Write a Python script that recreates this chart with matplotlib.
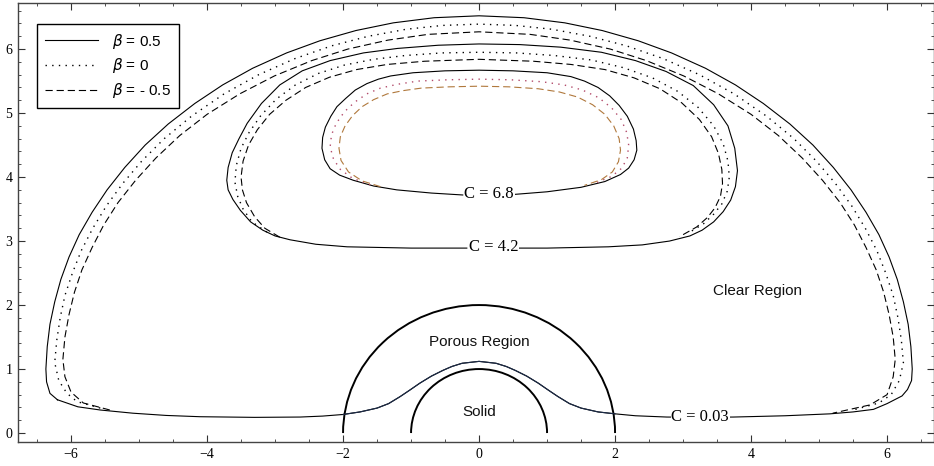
import numpy as np
import matplotlib
matplotlib.use("Agg")
import matplotlib.pyplot as plt
from matplotlib.patches import Arc
from matplotlib.ticker import MultipleLocator

# ---- data ----
# C = 0.03 streamline, beta = 0.5 (closed loop, starts at left bottom corner)
c003_solid_x = [-6.2, -5.9, -5.57, -5.09, -4.6, -4.1, -3.3, -2.63, -2.3, -2.0,
                -1.75, -1.5, -1.33, -1.16, -1.02, -0.87, -0.7, -0.53, -0.4, -0.25, 0.0,
                0.25, 0.4, 0.53, 0.7, 0.87, 1.02, 1.16, 1.33, 1.5, 1.75,
                2.0, 2.3, 2.76, 3.3, 3.74, 4.5, 5.16, 5.5, 5.8, 6.0, 6.22, 6.3, 6.36,
                6.37, 6.35, 6.31, 6.24, 6.15, 6.03, 5.88, 5.69, 5.47, 5.21, 4.91, 4.57,
                4.18, 3.77, 3.33, 2.83, 2.34, 1.81, 1.26, 0.66,
                0.0, -0.66, -1.26, -1.81, -2.34, -2.83, -3.33, -3.77, -4.18,
                -4.57, -4.91, -5.21, -5.47, -5.69, -5.88, -6.03, -6.15, -6.24, -6.31,
                -6.35, -6.37, -6.36, -6.31, -6.2]
c003_solid_y = [0.52, 0.41, 0.36, 0.31, 0.275, 0.255, 0.245, 0.25, 0.265, 0.29,
                0.33, 0.39, 0.46, 0.57, 0.67, 0.78, 0.89, 0.98, 1.04, 1.09, 1.12,
                1.09, 1.04, 0.98, 0.89, 0.78, 0.67, 0.57, 0.46, 0.39, 0.33,
                0.30, 0.27, 0.25, 0.245, 0.25, 0.27, 0.30, 0.33, 0.37, 0.46, 0.58, 0.68, 0.82,
                1.0, 1.35, 1.7, 2.05, 2.4, 2.75, 3.1, 3.45, 3.8, 4.15, 4.5, 4.83,
                5.15, 5.44, 5.7, 5.94, 6.13, 6.29, 6.41, 6.49,
                6.52, 6.49, 6.41, 6.29, 6.13, 5.94, 5.7, 5.44, 5.15,
                4.83, 4.5, 4.15, 3.8, 3.45, 3.1, 2.75, 2.4, 2.05, 1.7,
                1.35, 1.0, 0.8, 0.62, 0.52]
# porous-region part of the same line (drawn in dark blue)
porous_x = [-2.0, -1.75, -1.5, -1.33, -1.16, -1.02, -0.87, -0.7, -0.53, -0.4, -0.25, 0.0,
            0.25, 0.4, 0.53, 0.7, 0.87, 1.02, 1.16, 1.33, 1.5, 1.75, 2.0]
porous_y = [0.29, 0.33, 0.39, 0.46, 0.57, 0.67, 0.78, 0.89, 0.98, 1.04, 1.09, 1.12,
            1.09, 1.04, 0.98, 0.89, 0.78, 0.67, 0.57, 0.46, 0.39, 0.33, 0.30]

c003_dot_x = [-5.57, -5.91, -6.06, -6.18, -6.24, -6.21, -6.16, -6.09, -5.98, -5.85, -5.68,
              -5.48, -5.24, -4.96, -4.63, -4.23, -3.75, -3.24, -2.71, -2.17, -1.63, -1.07,
              -0.53, 0.0, 0.53, 1.07, 1.63, 2.17, 2.71, 3.24, 3.75, 4.23, 4.63, 4.96,
              5.24, 5.48, 5.68, 5.85, 5.98, 6.09, 6.16, 6.21, 6.24, 6.18, 6.06, 5.88, 5.5]
c003_dot_y = [0.39, 0.49, 0.62, 0.82, 1.1, 1.45, 1.8, 2.15, 2.5, 2.85, 3.2,
              3.55, 3.9, 4.25, 4.6, 4.95, 5.3, 5.6, 5.85, 6.05, 6.2, 6.31,
              6.37, 6.39, 6.37, 6.31, 6.2, 6.05, 5.85, 5.6, 5.3, 4.95, 4.6, 4.25,
              3.9, 3.55, 3.2, 2.85, 2.5, 2.15, 1.8, 1.45, 1.1, 0.82, 0.6, 0.47, 0.36]

c003_dash_x = [-5.43, -5.82, -6.0, -6.09, -6.12, -6.09, -6.03, -5.95, -5.84, -5.69, -5.52,
               -5.31, -5.05, -4.75, -4.4, -4.0, -3.52, -3.01, -2.46, -1.93, -1.34, -0.75,
               0.0, 0.75, 1.34, 1.93, 2.46, 3.01, 3.52, 4.0, 4.4, 4.75, 5.05,
               5.31, 5.52, 5.69, 5.84, 5.95, 6.03, 6.09, 6.12, 6.09, 6.0, 5.75, 5.2]
c003_dash_y = [0.36, 0.47, 0.64, 0.88, 1.15, 1.5, 1.85, 2.2, 2.55, 2.9, 3.25,
               3.6, 3.95, 4.3, 4.65, 4.98, 5.3, 5.58, 5.82, 6.0, 6.14, 6.23,
               6.27, 6.23, 6.14, 6.0, 5.82, 5.58, 5.3, 4.98, 4.65, 4.3, 3.95,
               3.6, 3.25, 2.9, 2.55, 2.2, 1.85, 1.5, 1.15, 0.88, 0.6, 0.44, 0.31]

# C = 4.2
c42_solid_x = [-0.18, -1.0, -1.94, -2.4, -2.78, -3.0, -3.18, -3.36, -3.51, -3.62, -3.69, -3.71,
               -3.69, -3.63, -3.53, -3.41, -3.2, -2.93, -2.6, -2.19, -1.7, -1.2, -0.6, 0.0,
               0.6, 1.2, 1.8, 2.3, 2.75, 3.15, 3.45, 3.66, 3.76, 3.8, 3.77, 3.7, 3.59,
               3.45, 3.28, 3.1, 2.8, 2.4, 1.9, 1.0, 0.22]
c42_solid_y = [2.89, 2.89, 2.91, 2.95, 3.02, 3.08, 3.17, 3.3, 3.48, 3.65, 3.8, 3.95,
               4.15, 4.38, 4.6, 4.84, 5.15, 5.44, 5.66, 5.82, 5.94, 6.01, 6.06, 6.08,
               6.07, 6.03, 5.95, 5.82, 5.65, 5.43, 5.13, 4.8, 4.45, 4.1, 3.85, 3.64, 3.46,
               3.3, 3.17, 3.08, 3.0, 2.94, 2.91, 2.89, 2.89]
c42_dot_x = [-3.12, -3.34, -3.47, -3.55, -3.59, -3.57, -3.5, -3.38, -3.21, -2.98, -2.7,
             -2.36, -1.98, -1.55, -1.08, -0.55, 0.0, 0.55, 1.1, 1.65, 2.12, 2.55, 2.92,
             3.22, 3.45, 3.59, 3.66, 3.68, 3.65, 3.57, 3.45, 3.3, 3.1]
c42_dot_y = [3.14, 3.3, 3.5, 3.7, 3.92, 4.18, 4.45, 4.7, 4.96, 5.22, 5.44,
             5.62, 5.75, 5.84, 5.9, 5.94, 5.95, 5.94, 5.9, 5.83, 5.71, 5.55, 5.34,
             5.09, 4.8, 4.52, 4.25, 4.0, 3.78, 3.58, 3.42, 3.27, 3.14]
c42_dash_x = [-2.93, -3.15, -3.3, -3.42, -3.48, -3.5, -3.47, -3.39, -3.26, -3.08, -2.84,
              -2.55, -2.2, -1.8, -1.35, -0.8, 0.0, 0.8, 1.35, 1.85, 2.28, 2.66, 2.98,
              3.24, 3.42, 3.52, 3.57, 3.58, 3.55, 3.47, 3.36, 3.2, 2.95]
c42_dash_y = [3.06, 3.2, 3.38, 3.6, 3.8, 4.0, 4.25, 4.5, 4.74, 4.98, 5.2,
              5.4, 5.56, 5.68, 5.76, 5.81, 5.84, 5.81, 5.76, 5.68, 5.55, 5.38, 5.16,
              4.9, 4.63, 4.37, 4.12, 3.9, 3.7, 3.52, 3.37, 3.22, 3.07]

# C = 6.8
c68_solid_x = [-0.24, -0.7, -1.21, -1.55, -1.85, -2.05, -2.19, -2.27, -2.31, -2.3, -2.26,
               -2.18, -2.09, -1.96, -1.82, -1.65, -1.48, -1.3, -0.97, -0.5, 0.0, 0.5,
               1.0, 1.35, 1.55, 1.75, 1.92, 2.06, 2.18, 2.27, 2.31, 2.32, 2.28, 2.2,
               2.08, 1.85, 1.5, 1.0, 0.53]
c68_solid_y = [3.72, 3.75, 3.8, 3.86, 3.95, 4.03, 4.13, 4.27, 4.45, 4.62, 4.78,
               4.95, 5.1, 5.23, 5.36, 5.46, 5.53, 5.58, 5.63, 5.66, 5.67, 5.66,
               5.63, 5.57, 5.5, 5.4, 5.27, 5.12, 4.95, 4.75, 4.57, 4.42, 4.27, 4.14,
               4.04, 3.93, 3.84, 3.77, 3.73]
c68_dot_x = [-1.6, -1.86, -2.04, -2.14, -2.19, -2.17, -2.1, -1.98, -1.83, -1.65, -1.45,
             -1.2, -0.9, -0.46, 0.0, 0.46, 0.92, 1.25, 1.52, 1.76, 1.95, 2.09, 2.17,
             2.2, 2.18, 2.1, 1.95, 1.7]
c68_dot_y = [3.88, 3.98, 4.12, 4.28, 4.47, 4.66, 4.84, 5.02, 5.17, 5.3, 5.39,
             5.45, 5.5, 5.52, 5.53, 5.52, 5.49, 5.44, 5.36, 5.24, 5.08, 4.9, 4.7,
             4.5, 4.3, 4.14, 4.01, 3.9]
c68_dash_x = [-1.45, -1.72, -1.92, -2.03, -2.06, -2.04, -1.97, -1.86, -1.72, -1.55, -1.35,
              -1.12, -0.85, -0.44, 0.0, 0.44, 0.87, 1.18, 1.45, 1.67, 1.85, 1.98, 2.06,
              2.08, 2.05, 1.96, 1.8, 1.55]
c68_dash_y = [3.85, 3.94, 4.08, 4.26, 4.45, 4.63, 4.8, 4.96, 5.1, 5.21, 5.3,
              5.35, 5.39, 5.41, 5.42, 5.41, 5.38, 5.33, 5.25, 5.13, 4.98, 4.8, 4.6,
              4.42, 4.24, 4.08, 3.96, 3.87]

radii = [1.0, 2.0]
beta_labels = ["$\\beta$ = 0.5", "$\\beta$ = 0", "$\\beta$ = - 0.5"]
contour_labels = ["C = 6.8", "C = 4.2", "C = 0.03"]
contour_label_x = [0.15, 0.22, 3.25]
contour_label_y = [3.73, 2.9, 0.25]
region_names = ["Porous Region", "Solid", "Clear Region"]
region_x = [0.0, 0.0, 4.1]
region_y = [1.42, 0.33, 2.22]

plt.rcParams['font.family'] = ['Liberation Sans', 'DejaVu Sans']
plt.rcParams['mathtext.fontset'] = 'dejavusans'

fig = plt.figure(figsize=(9.34, 4.66), dpi=100)
ax = fig.add_axes([18 / 934, 24 / 466, 916 / 934, 439 / 466])

dot = (0, (1, 3.8))
dash = (0, (6.5, 3.5))
lw = 0.8

h1, = ax.plot(c003_solid_x, c003_solid_y, '-', color='black', lw=lw)
ax.plot(porous_x, porous_y, '-', color='#1c2b48', lw=lw)
h2, = ax.plot(c003_dot_x, c003_dot_y, color='black', lw=1.0, linestyle=dot)
h3, = ax.plot(c003_dash_x, c003_dash_y, color='black', lw=lw, linestyle=dash)

ax.plot(c42_solid_x, c42_solid_y, '-', color='black', lw=lw)
ax.plot(c42_dot_x, c42_dot_y, color='black', lw=1.0, linestyle=dot)
ax.plot(c42_dash_x, c42_dash_y, color='black', lw=lw, linestyle=dash)

ax.plot(c68_solid_x, c68_solid_y, '-', color='black', lw=lw)
ax.plot(c68_dot_x, c68_dot_y, color='#b24a6a', lw=1.0, linestyle=dot)
ax.plot(c68_dash_x, c68_dash_y, color='#b0783c', lw=lw, linestyle=dash)

for r in radii:
    ax.add_patch(Arc((0, 0), 2 * r, 2 * r, theta1=0, theta2=180, color='black', lw=1.4))

for t, x, y in zip(contour_labels, contour_label_x, contour_label_y):
    ax.text(x, y, t, family='Liberation Serif', fontsize=12, ha='center', va='center',
            bbox=dict(facecolor='white', edgecolor='none', pad=0.5), zorder=5)

for t, x, y in zip(region_names, region_x, region_y):
    ax.text(x, y, t, fontsize=11, ha='center', va='center', color='#111111')

leg = ax.legend([h1, h2, h3], beta_labels, loc='upper left',
                bbox_to_anchor=(19 / 916, 418 / 439), borderaxespad=0,
                fontsize=11, handlelength=3.5, handletextpad=0.9, labelspacing=0.38,
                borderpad=0.5, fancybox=False, framealpha=1)
leg.get_frame().set_edgecolor('black')
leg.get_frame().set_linewidth(1.0)

ax.set_xlim(-6.78, 6.69)
ax.set_ylim(-0.14, 6.72)
ax.xaxis.set_major_locator(MultipleLocator(2))
ax.xaxis.set_minor_locator(MultipleLocator(0.5))
ax.yaxis.set_major_locator(MultipleLocator(1))
ax.yaxis.set_minor_locator(MultipleLocator(0.2))
ax.tick_params(which='both', direction='in', top=True, right=True, color='#333333')
ax.tick_params(which='major', length=5, width=0.8, labelsize=10, pad=4)
ax.tick_params(which='minor', length=2.5, width=0.6)
for lab in ax.get_xticklabels() + ax.get_yticklabels():
    lab.set_family('Liberation Serif')
for s in ax.spines.values():
    s.set_color('#444444')
    s.set_linewidth(1.0)

fig.savefig('out.png', dpi=100)
